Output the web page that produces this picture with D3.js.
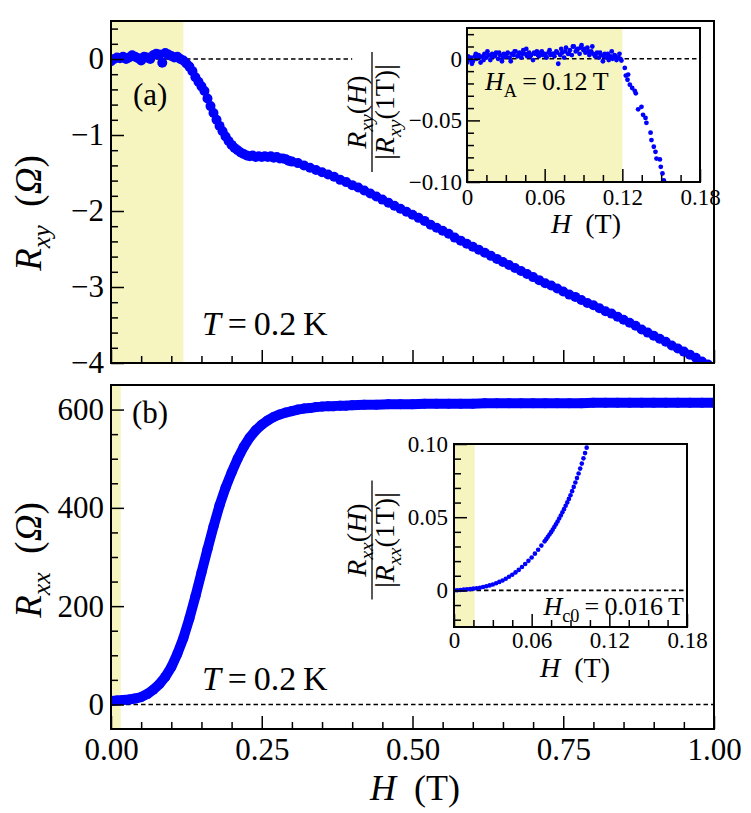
<!DOCTYPE html>
<html>
<head>
<meta charset="utf-8">
<script src="https://cdn.jsdelivr.net/npm/d3@7.9.0/dist/d3.min.js"></script>
<style>
  body { margin: 0; background: #fff; }
</style>
</head>
<body>
<svg id="fig" width="751" height="813"></svg>
<script>
// ---- data ----
// (a) Hall resistance R_xy (Ohm) vs H (T)
const H_top = [0,.005,.01,.015,.02,.025,.03,.035,.04,.045,.05,.055,.06,.065,.07,.075,.08,.085,.09,.095,
  .1,.105,.11,.115,.12,.125,.13,.135,.14,.145,.15,.155,.16,.165,.17,.175,.18,.185,.19,.195,
  .2,.205,.21,.215,.22,.225,.23,.235,.24,.245,.25,.255,.26,.265,.27,.275,.28,.285,.29,.295,.3,
  .31,.32,.33,.34,.35,.36,.37,.38,.39,.4,.41,.42,.43,.44,.45,.46,.47,.48,.49,.5,
  .51,.52,.53,.54,.55,.56,.57,.58,.59,.6,.61,.62,.63,.64,.65,.66,.67,.68,.69,.7,
  .71,.72,.73,.74,.75,.76,.77,.78,.79,.8,.81,.82,.83,.84,.85,.86,.87,.88,.89,.9,
  .91,.92,.93,.94,.95,.96,.97,.98,.99,1];
const Rxy_top = [-.03,0,.02,.01,.03,0,.02,.05,.03,.01,-.02,.03,.02,0,.05,.07,.06,-.05,.08,.06,
  .04,.02,.03,0,-.02,-.06,-.10,-.16,-.24,-.30,-.36,-.42,-.52,-.62,-.71,-.80,-.88,-.95,-1.02,-1.08,
  -1.13,-1.17,-1.20,-1.23,-1.25,-1.27,-1.28,-1.27,-1.29,-1.28,-1.29,-1.28,-1.29,-1.28,-1.30,-1.29,-1.31,-1.31,-1.32,-1.34,-1.35,
  -1.37,-1.40,-1.43,-1.46,-1.49,-1.52,-1.55,-1.59,-1.62,-1.66,-1.69,-1.73,-1.77,-1.81,-1.85,-1.89,-1.93,-1.97,-2.01,-2.05,
  -2.09,-2.13,-2.18,-2.22,-2.26,-2.30,-2.35,-2.39,-2.43,-2.47,-2.51,-2.55,-2.59,-2.63,-2.67,-2.71,-2.75,-2.79,-2.83,-2.87,
  -2.91,-2.95,-2.98,-3.02,-3.06,-3.10,-3.13,-3.17,-3.21,-3.24,-3.28,-3.32,-3.35,-3.39,-3.43,-3.47,-3.51,-3.56,-3.60,-3.64,
  -3.68,-3.72,-3.77,-3.81,-3.85,-3.89,-3.93,-3.98,-4.02,-4.06];

// (b) longitudinal resistance R_xx (Ohm) vs H (T)
const H_bot = [0,.01,.02,.03,.04,.05,.06,.07,.08,.09,.1,.11,.12,.13,.14,.15,.16,.17,.18,.19,
  .2,.21,.22,.23,.24,.25,.26,.27,.28,.29,.3,.31,.32,.33,.34,.35,.36,.37,.38,.39,.4,
  .42,.44,.46,.48,.5,.52,.54,.56,.58,.6,.62,.64,.66,.68,.7,.72,.74,.76,.78,.8,
  .82,.84,.86,.88,.9,.92,.94,.96,.98,1];
const Rxx_bot = [7,8,9,10,12,15,21,30,41,56,76,103,135,175,220,268,316,362,405,441,
  472,500,524,543,558,569,578,585,590,594,597,600,602,603,605,606,607,607,608,608,609,
  610,610,611,611,611,612,612,612,612,612,613,613,613,613,613,613,613,613,613,614,
  614,614,614,614,614,614,614,614,614,614];

// inset (a): R_xy(H)/|R_xy(1T)|
const H_in1 = [0,.0015,.003,.0045,.006,.0075,.009,.0105,.012,.0135,
  .015,.0165,.018,.0195,.021,.0225,.024,.0255,.027,.0285,
  .03,.0315,.033,.0345,.036,.0375,.039,.0405,.042,.0435,
  .045,.0465,.048,.0495,.051,.0525,.054,.0555,.057,.0585,
  .06,.0615,.063,.0645,.066,.0675,.069,.0705,.072,.0735,
  .075,.0765,.078,.0795,.081,.0825,.084,.0855,.087,.0885,
  .09,.0915,.093,.0945,.096,.0975,.099,.1005,.102,.1035,
  .105,.1065,.108,.1095,.111,.1125,.114,.1155,.117,.1185,
  .1193,.1219,.1227,.1245,.1240,.1258,.1276,.1296,.1304,.1322,.1348,.1360,
  .1379,.1386,.1418,.1425,.1443,.1456,.1464,.1490,.1497,.1510,.1520,
  .0008,.0038,.0068,.0098,.0128,.0158,.0188,.0218,.0248,.0278,
  .0308,.0338,.0368,.0398,.0428,.0458,.0488,.0518,.0548,.0578,
  .0608,.0638,.0668,.0698,.0728,.0758,.0788,.0818,.0848,.0878,
  .0908,.0938,.0968,.0998,.1028,.1058,.1088,.1118,.1148,.1178];
const Rxy_in1 = [-.003,-.001,.001,-.002,.002,0,.003,-.003,.002,.004,
  .001,.003,-.001,.004,.002,.005,0,.003,-.002,.004,
  .002,.005,.001,.004,.003,.006,.002,.005,.001,.007,
  .004,.002,.005,.003,-.001,.004,.006,.002,.005,.003,
  .004,.001,.005,.003,.004,.002,.006,-.004,.003,.005,
  .001,.009,.004,.007,.003,.010,.006,.008,.004,.011,
  .007,.005,.009,.003,.006,.004,.002,.005,.001,.003,
  -.002,.004,.001,-.001,.002,0,.003,-.001,.001,0,
  -.0014,-.0074,-.0136,-.0128,-.017,-.021,-.0237,-.026,-.028,-.041,-.039,-.0455,
  -.048,-.052,-.060,-.066,-.0714,-.0755,-.081,-.0817,-.0877,-.093,-.0986,
  .002,-.004,.004,.001,-.001,.006,.002,.003,.005,.001,
  .004,-.002,.006,.003,.004,.008,.002,.005,.003,.006,
  .002,.007,.004,.005,.008,.006,.004,.010,.007,.009,
  .008,.006,.010,.004,.005,.002,.004,.006,.002,.004];

// inset (b): R_xx(H)/|R_xx(1T)|
const H_in2 = [0,.0025,.005,.0075,.01,.0125,.015,.0175,.02,.0225,.025,.0275,.03,.0325,.035,.0375,
  .04,.0425,.045,.0475,.05,.0525,.055,.0575,.06,.0625,.065,.0675,.07,
  .07125,.0725,.07375,.075,.07625,.0775,.07875,.08,.08125,.0825,.08375,.085,.08625,.0875,
  .08875,.09,.09125,.0925,.09375,.095,.09625,.0975,.09875,.1,.10125,.1025,.10375];
const Rxx_in2 = [0,.0001,.0003,.0005,.0007,.0009,.0012,.0015,.0018,.0023,.0028,.0034,.004,.0049,.0058,.0068,
  .008,.0093,.0107,.0123,.014,.016,.018,.0202,.0225,.0251,.0278,.0306,.0335,
  .035,.0366,.0382,.0398,.0415,.0433,.0451,.047,.0491,.0512,.0533,.0555,.0578,.0601,
  .0625,.065,.0678,.0707,.0737,.0767,.0799,.0832,.0866,.0902,.0938,.0975,.1012];

// ticks
const mainXMajor = [0, .25, .5, .75, 1];
const mainXMinor = [.05,.1,.15,.2,.3,.35,.4,.45,.55,.6,.65,.7,.8,.85,.9,.95];
const topYMajor = [-4, -3, -2, -1, 0];
const topYMinor = [-3.8,-3.6,-3.4,-3.2,-2.8,-2.6,-2.4,-2.2,-1.8,-1.6,-1.4,-1.2,-.8,-.6,-.4,-.2,.2,.4];
const botYMajor = [0, 200, 400, 600];
const botYMinor = [50,100,150,250,300,350,450,500,550];
const inXMajor = [0, .06, .12, .18];
const inXMinor = [.015,.03,.045,.075,.09,.105,.135,.15,.165];
const in1YMajor = [-.1, -.05, 0];
const in1YMinor = [-.09,-.08,-.07,-.06,-.04,-.03,-.02,-.01,.01,.02];
const in2YMajor = [0, .05, .1];
const in2YMinor = [-.02,-.01,.01,.02,.03,.04,.06,.07,.08,.09];

const BLUE = '#0000ff';
const SHADE = '#f6f4bf';
const FONT = '"Liberation Serif", serif';

const svg = d3.select('#fig').style('font-family', FONT);
const defs = svg.append('defs');
let clipCount = 0;

function clipFor(x, y) {
  const id = 'clip' + (clipCount++);
  const [xa, xb] = x.range(), [ya, yb] = y.range();
  defs.append('clipPath').attr('id', id).append('rect')
    .attr('x', xa).attr('y', yb).attr('width', xb - xa).attr('height', ya - yb);
  return `url(#${id})`;
}

// text with italic parts and subscripts: [string, style], style in i / r / si / sr
function mathText(g, parts, size) {
  const t = g.append('text').attr('font-size', size).style('font-family', FONT);
  let low = false;
  parts.forEach(([s, st]) => {
    const sp = t.append('tspan').text(s).style('font-family', FONT);
    const sub = st[0] === 's';
    sp.style('font-style', st.endsWith('i') ? 'italic' : 'normal');
    if (sub) {
      sp.attr('font-size', size * 0.7);
      if (!low) { sp.attr('dy', size * 0.25); low = true; }
    } else if (low) {
      sp.attr('dy', -size * 0.25); low = false;
    }
  });
  return t;
}

function panel(o) {
  const g = svg.append('g');
  const [xa, xb] = o.x.range(), [ya, yb] = o.y.range();
  if (o.bg) g.append('rect').attr('x', xa).attr('y', yb).attr('width', xb - xa).attr('height', ya - yb).attr('fill', '#fff');

  const body = g.append('g').attr('clip-path', clipFor(o.x, o.y));
  body.append('rect')
    .attr('x', xa).attr('y', yb)
    .attr('width', o.x(o.shade) - xa).attr('height', ya - yb)
    .attr('fill', SHADE);
  body.append('line')
    .attr('x1', xa).attr('x2', o.x(o.dashTo))
    .attr('y1', o.y(0)).attr('y2', o.y(0))
    .attr('stroke', '#000').attr('stroke-width', 1.6).attr('stroke-dasharray', '4.5,3');

  const pts = o.xs.map((h, i) => [h, o.ys[i]]);
  if (o.band) {
    body.append('path').datum(pts)
      .attr('d', d3.line().x(d => o.x(d[0])).y(d => o.y(d[1])))
      .attr('fill', 'none').attr('stroke', BLUE)
      .attr('stroke-width', 2 * o.r).attr('stroke-linejoin', 'round');
  }
  body.selectAll('circle').data(pts).join('circle')
    .attr('cx', d => o.x(d[0])).attr('cy', d => o.y(d[1]))
    .attr('r', o.r).attr('fill', BLUE);

  const ax = (axis, tr) => g.append('g').attr('transform', tr).call(axis)
    .attr('font-family', null).attr('font-size', o.fs)
    .call(s => s.select('.domain').remove());
  ax(d3.axisBottom(o.x).tickValues(o.xMinor).tickSize(-o.tMin).tickFormat(''), `translate(0,${ya})`);
  ax(d3.axisBottom(o.x).tickValues(o.xMajor).tickSize(-o.tMaj).tickPadding(o.xPad).tickFormat(o.xFmt || (() => '')), `translate(0,${ya})`);
  ax(d3.axisLeft(o.y).tickValues(o.yMinor).tickSize(-o.tMin).tickFormat(''), `translate(${xa},0)`);
  ax(d3.axisLeft(o.y).tickValues(o.yMajor).tickSize(-o.tMaj).tickPadding(o.yPad).tickFormat(o.yFmt), `translate(${xa},0)`);
  g.selectAll('.tick line').attr('stroke', '#000').attr('stroke-width', 1.5);
  g.selectAll('.tick text').attr('fill', '#000').style('font-family', FONT);

  g.append('rect')
    .attr('x', xa).attr('y', yb).attr('width', xb - xa).attr('height', ya - yb)
    .attr('fill', 'none').attr('stroke', '#000').attr('stroke-width', 2);
  return g;
}

const fmtIn = d => d === 0 ? '0' : d3.format('.2f')(d);

// scales
const xMain = d3.scaleLinear([0, 1], [111, 714]);
const yTop = d3.scaleLinear([-4, 0.5], [363, 21]);
const yBot = d3.scaleLinear([-50, 650], [729, 385]);
const xIn1 = d3.scaleLinear([0, 0.18], [467, 700]);
const yIn1 = d3.scaleLinear([-0.1, 0.025], [182, 28]);
const xIn2 = d3.scaleLinear([0, 0.18], [454, 687]);
const yIn2 = d3.scaleLinear([-0.025, 0.1], [627, 444]);

// (a)
panel({ x: xMain, y: yTop, xs: H_top, ys: Rxy_top, r: 5, shade: 0.12, dashTo: 0.4,
  xMajor: mainXMajor, xMinor: mainXMinor, yMajor: topYMajor, yMinor: topYMinor,
  yFmt: d3.format('d'), tMaj: 13, tMin: 7, fs: 31, xPad: 9, yPad: 7 });
// (b)
panel({ x: xMain, y: yBot, xs: H_bot, ys: Rxx_bot, r: 5, band: true, shade: 0.016, dashTo: 1,
  xMajor: mainXMajor, xMinor: mainXMinor, yMajor: botYMajor, yMinor: botYMinor,
  xFmt: d3.format('.2f'), yFmt: d3.format('d'), tMaj: 13, tMin: 7, fs: 31, xPad: 9, yPad: 7 });
// insets
panel({ x: xIn1, y: yIn1, xs: H_in1, ys: Rxy_in1, r: 2.4, bg: true, shade: 0.12, dashTo: 0.18,
  xMajor: inXMajor, xMinor: inXMinor, yMajor: in1YMajor, yMinor: in1YMinor,
  xFmt: fmtIn, yFmt: fmtIn, tMaj: 13, tMin: 7, fs: 23, xPad: 7, yPad: 5 });
panel({ x: xIn2, y: yIn2, xs: H_in2, ys: Rxx_in2, r: 2.3, bg: true, shade: 0.016, dashTo: 0.18,
  xMajor: inXMajor, xMinor: inXMinor, yMajor: in2YMajor, yMinor: in2YMinor,
  xFmt: fmtIn, yFmt: fmtIn, tMaj: 13, tMin: 7, fs: 23, xPad: 5, yPad: 6 });

// labels
const labels = svg.append('g');
mathText(labels, [['(a)', 'r']], 31).attr('x', 133).attr('y', 105);
mathText(labels, [['(b)', 'r']], 31).attr('x', 132).attr('y', 423);
mathText(labels, [['T', 'i'], ['\u2009=\u20090.2\u2009K', 'r']], 34).attr('x', 202).attr('y', 335);
mathText(labels, [['T', 'i'], ['\u2009=\u20090.2\u2009K', 'r']], 34).attr('x', 202).attr('y', 690);
mathText(labels, [['H', 'i'], ['\u2002(T)', 'r']], 36).attr('x', 415).attr('y', 800).attr('text-anchor', 'middle');
mathText(labels, [['H', 'i'], ['\u2002(T)', 'r']], 28).attr('x', 586).attr('y', 233).attr('text-anchor', 'middle');
mathText(labels, [['H', 'i'], ['\u2002(T)', 'r']], 28).attr('x', 575).attr('y', 677).attr('text-anchor', 'middle');
mathText(labels, [['H', 'i'], ['A', 'sr'], ['\u2009=\u20090.12\u2009T', 'r']], 26).attr('x', 485).attr('y', 90);
mathText(labels, [['H', 'i'], ['c0', 'sr'], ['\u2009=\u20090.016\u2009T', 'r']], 26).attr('x', 684).attr('y', 615).attr('text-anchor', 'end');

function yLabel(cx, cy, sub) {
  const g = labels.append('g').attr('transform', `translate(${cx},${cy}) rotate(-90)`);
  mathText(g, [['R', 'i'], [sub, 'si'], ['\u2002(', 'r'], ['\u03a9', 'i'], [')', 'r']], 37).attr('text-anchor', 'middle');
}
yLabel(41, 213, 'xy');
yLabel(41, 560, 'xx');

function fraction(cx, cy, sub, len) {
  const g = labels.append('g').attr('transform', `translate(${cx},${cy}) rotate(-90)`);
  mathText(g, [['R', 'i'], [sub, 'si'], ['(', 'r'], ['H', 'i'], [')', 'r']], 28)
    .attr('text-anchor', 'middle').attr('y', -6);
  g.append('line').attr('x1', -len / 2).attr('x2', len / 2).attr('stroke', '#000').attr('stroke-width', 1.3);
  mathText(g, [['|', 'r'], ['R', 'i'], [sub, 'si'], ['(1T)|', 'r']], 28)
    .attr('text-anchor', 'middle').attr('y', 22);
}
fraction(372, 112, 'xy', 120);
fraction(372, 540, 'xx', 119);
</script>
</body>
</html>
